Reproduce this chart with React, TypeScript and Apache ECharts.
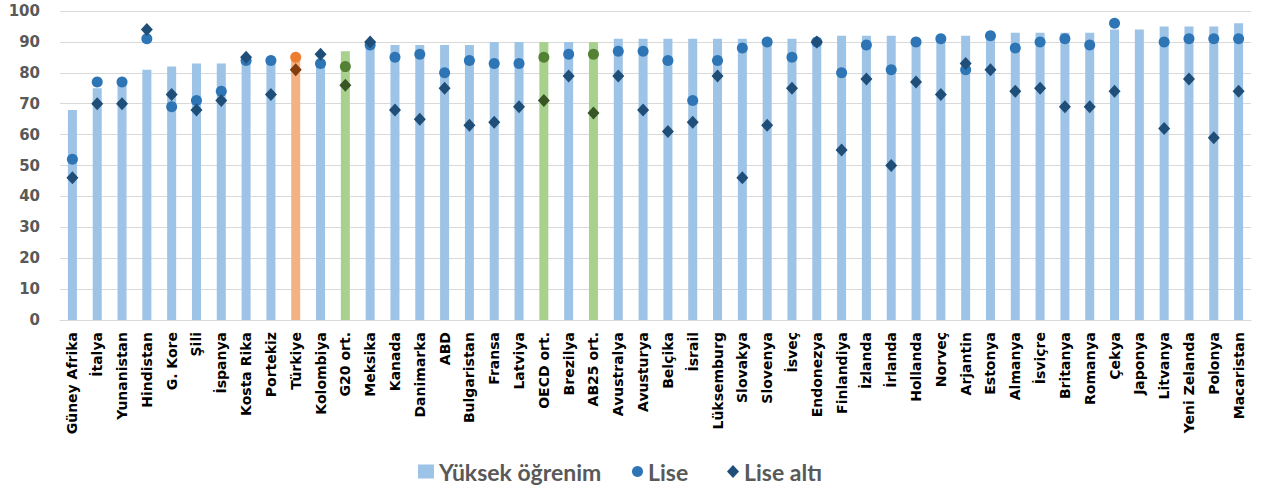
import React, { useEffect, useRef } from "react";
import * as echarts from "echarts";

const categories = [
  "Güney Afrika", "İtalya", "Yunanistan", "Hindistan", "G. Kore", "Şili", "İspanya", "Kosta Rika",
  "Portekiz", "Türkiye", "Kolombiya", "G20 ort.", "Meksika", "Kanada", "Danimarka", "ABD",
  "Bulgaristan", "Fransa", "Latviya", "OECD ort.", "Brezilya", "AB25 ort.", "Avustralya", "Avusturya",
  "Belçika", "İsrail", "Lüksemburg", "Slovakya", "Slovenya", "İsveç", "Endonezya", "Finlandiya",
  "İzlanda", "İrlanda", "Hollanda", "Norveç", "Arjantin", "Estonya", "Almanya", "İsviçre",
  "Britanya", "Romanya", "Çekya", "Japonya", "Litvanya", "Yeni Zelanda", "Polonya", "Macaristan",
];

const yuksekOgrenim = [
  68, 75, 77, 81, 82, 83, 83, 84, 84, 85,
  84, 87, 89, 89, 89, 89, 89, 90, 90, 90,
  90, 90, 91, 91, 91, 91, 91, 91, 91, 91,
  90, 92, 92, 92, 91, 91, 92, 92, 93, 93,
  93, 93, 94, 94, 95, 95, 95, 96,
];

const lise = [
  52, 77, 77, 91, 69, 71, 74, 84, 84, 85,
  83, 82, 89, 85, 86, 80, 84, 83, 83, 85,
  86, 86, 87, 87, 84, 71, 84, 88, 90, 85,
  90, 80, 89, 81, 90, 91, 81, 92, 88, 90,
  91, 89, 96, null, 90, 91, 91, 91,
];

const liseAlti = [
  46, 70, 70, 94, 73, 68, 71, 85, 73, 81,
  86, 76, 90, 68, 65, 75, 63, 64, 69, 71,
  79, 67, 79, 68, 61, 64, 79, 46, 63, 75,
  90, 55, 78, 50, 77, 73, 83, 81, 74, 75,
  69, 69, 74, null, 62, 78, 59, 74,
];

const orangeCats = ["Türkiye"];
const greenCats = ["G20 ort.", "OECD ort.", "AB25 ort."];

const BAR = { base: "#9DC3E6", orange: "#F4B183", green: "#A9D18E" };
const CIRCLE = { base: "#2E75B6", orange: "#ED7D31", green: "#548235" };
const DIAMOND = { base: "#1F4E79", orange: "#843C0C", green: "#375623" };

function pick(cat: string, pal: { base: string; orange: string; green: string }) {
  if (orangeCats.includes(cat)) return pal.orange;
  if (greenCats.includes(cat)) return pal.green;
  return pal.base;
}

export default function App() {
  const ref = useRef<HTMLDivElement>(null);

  useEffect(() => {
    if (!ref.current) return;
    const chart = echarts.init(ref.current, null, { renderer: "svg" });

    const legendText = {
      fontFamily: "Lato",
      fontWeight: "bold" as const,
      fontSize: 23,
      color: "#595959",
    };

    chart.setOption({
      animation: false,
      backgroundColor: "#ffffff",
      grid: { left: 60, right: 12, top: 11, bottom: 169, containLabel: false },
      legend: [
        {
          data: [{ name: "Yüksek öğrenim", icon: "rect" }],
          left: 413,
          top: 455,
          itemWidth: 16,
          itemHeight: 14,
          textStyle: legendText,
        },
        {
          data: [{ name: "Lise", icon: "circle" }],
          left: 627,
          top: 455,
          itemWidth: 11,
          itemHeight: 11,
          textStyle: legendText,
        },
        {
          data: [{ name: "Lise altı", icon: "diamond" }],
          left: 722,
          top: 455,
          itemWidth: 12,
          itemHeight: 13,
          textStyle: legendText,
        },
      ],
      xAxis: {
        type: "category",
        data: categories,
        axisLine: { show: true, lineStyle: { color: "#D9D9D9", width: 1 } },
        axisTick: { show: false },
        axisLabel: {
          interval: 0,
          rotate: 90,
          margin: 12,
          color: "#000000",
          fontFamily: "DejaVu Sans",
          fontWeight: "bold",
          fontSize: 14,
        },
      },
      yAxis: {
        type: "value",
        min: 0,
        max: 100,
        interval: 10,
        axisLine: { show: false },
        axisTick: { show: false },
        splitLine: { lineStyle: { color: "#D9D9D9", width: 1 } },
        axisLabel: {
          margin: 20,
          color: "#595959",
          fontFamily: "DejaVu Sans",
          fontWeight: "bold",
          fontSize: 15,
        },
      },
      series: [
        {
          name: "Yüksek öğrenim",
          type: "bar",
          barWidth: 9,
          itemStyle: { color: BAR.base },
          data: yuksekOgrenim.map((v, i) => ({
            value: v,
            itemStyle: { color: pick(categories[i], BAR) },
          })),
        },
        {
          name: "Lise",
          type: "scatter",
          symbol: "circle",
          symbolSize: 11,
          itemStyle: { color: CIRCLE.base, opacity: 1 },
          data: lise.map((v, i) => ({
            value: v,
            itemStyle: { color: pick(categories[i], CIRCLE) },
          })),
        },
        {
          name: "Lise altı",
          type: "scatter",
          symbol: "diamond",
          symbolSize: [12, 13],
          itemStyle: { color: DIAMOND.base, opacity: 1 },
          data: liseAlti.map((v, i) => ({
            value: v,
            itemStyle: { color: pick(categories[i], DIAMOND) },
          })),
        },
      ],
    });

    return () => chart.dispose();
  }, []);

  return (
    <div
      ref={ref}
      style={{ position: "fixed", left: 0, top: 0, width: 1263, height: 489 }}
    />
  );
}
